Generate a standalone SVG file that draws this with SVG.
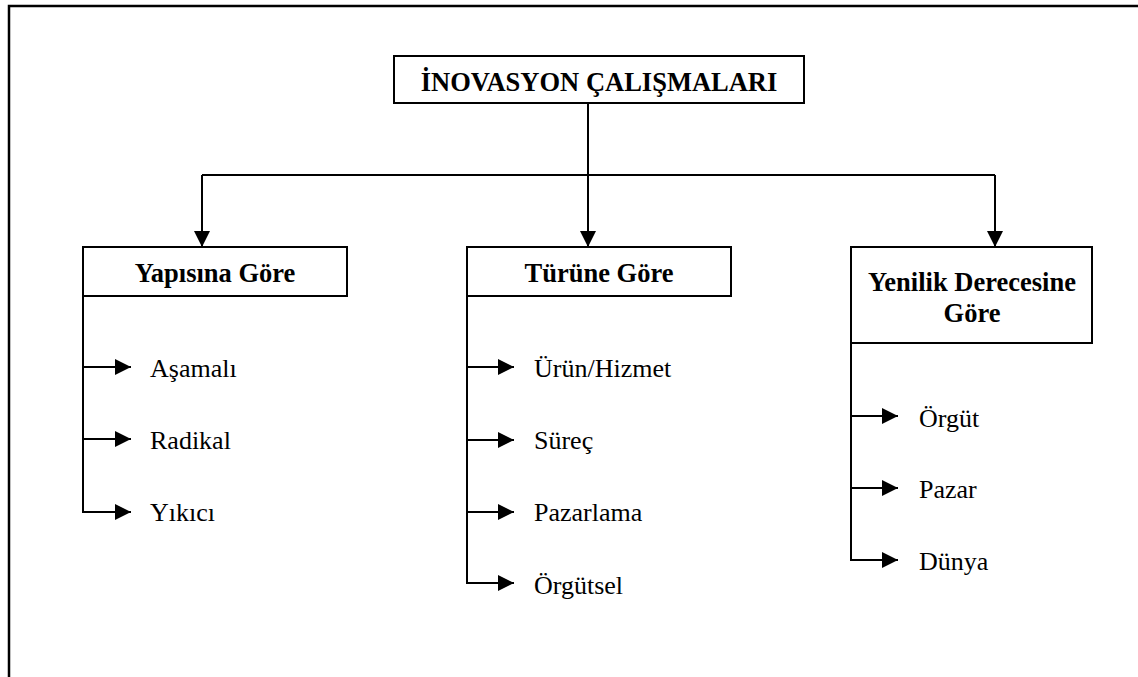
<svg xmlns="http://www.w3.org/2000/svg" width="1138" height="677" viewBox="0 0 1138 677">
  <style>
    .box { fill: #fff; stroke: #000; stroke-width: 2; }
    .wire { fill: none; stroke: #000; stroke-width: 2; }
    .head { font-family: "Liberation Serif", "Times New Roman", serif; font-weight: bold; font-size: 26.5px; fill: #000; text-anchor: middle; }
    .item { font-family: "Liberation Serif", "Times New Roman", serif; font-size: 26px; fill: #000; }
  </style>
  <defs>
    <marker id="arrow" markerUnits="userSpaceOnUse" markerWidth="16" markerHeight="16" refX="16" refY="8" orient="auto">
      <path d="M0,0 L16,8 L0,16 Z" fill="#000"/>
    </marker>
  </defs>

  <rect width="1138" height="677" fill="#fff"/>
  <!-- page frame -->
  <path d="M9,677 V6 H1138" fill="none" stroke="#000" stroke-width="2.5"/>

  <g id="connectors">
    <!-- trunk and distribution bar -->
    <path class="wire" d="M588,103 V175"/>
    <path class="wire" d="M202,175 H995"/>
    <path class="wire" d="M202,175 V247" marker-end="url(#arrow)"/>
    <path class="wire" d="M588,175 V247" marker-end="url(#arrow)"/>
    <path class="wire" d="M995,175 V247" marker-end="url(#arrow)"/>

    <!-- Yapısına Göre branches -->
    <path class="wire" d="M83,296 V512"/>
    <path class="wire" d="M82,367 H131" marker-end="url(#arrow)"/>
    <path class="wire" d="M82,439 H131" marker-end="url(#arrow)"/>
    <path class="wire" d="M82,512 H131" marker-end="url(#arrow)"/>

    <!-- Türüne Göre branches -->
    <path class="wire" d="M467,296 V583"/>
    <path class="wire" d="M466,367 H514" marker-end="url(#arrow)"/>
    <path class="wire" d="M466,440 H514" marker-end="url(#arrow)"/>
    <path class="wire" d="M466,512 H514" marker-end="url(#arrow)"/>
    <path class="wire" d="M466,583 H514" marker-end="url(#arrow)"/>

    <!-- Yenilik Derecesine Göre branches -->
    <path class="wire" d="M851,343 V560"/>
    <path class="wire" d="M850,416 H898" marker-end="url(#arrow)"/>
    <path class="wire" d="M850,488 H898" marker-end="url(#arrow)"/>
    <path class="wire" d="M850,560 H898" marker-end="url(#arrow)"/>
  </g>

  <g id="root">
    <rect class="box" x="394" y="56" width="410" height="47"/>
    <text class="head" x="599" y="91">İNOVASYON ÇALIŞMALARI</text>
  </g>

  <g id="yapisina-gore">
    <rect class="box" x="83" y="247" width="264" height="49"/>
    <text class="head" x="215" y="282">Yapısına Göre</text>
  </g>

  <g id="turune-gore">
    <rect class="box" x="467" y="247" width="264" height="49"/>
    <text class="head" x="599" y="282">Türüne Göre</text>
  </g>

  <g id="yenilik-derecesine-gore">
    <rect class="box" x="851" y="247" width="241" height="96"/>
    <text class="head" x="972" y="291">Yenilik Derecesine</text>
    <text class="head" x="972" y="322">Göre</text>
  </g>

  <g id="items-yapi">
    <text class="item" x="150" y="377">Aşamalı</text>
    <text class="item" x="150" y="449">Radikal</text>
    <text class="item" x="150" y="521">Yıkıcı</text>
  </g>

  <g id="items-tur">
    <text class="item" x="534" y="377">Ürün/Hizmet</text>
    <text class="item" x="534" y="449">Süreç</text>
    <text class="item" x="534" y="521">Pazarlama</text>
    <text class="item" x="534" y="594">Örgütsel</text>
  </g>

  <g id="items-yenilik">
    <text class="item" x="919" y="427">Örgüt</text>
    <text class="item" x="919" y="498">Pazar</text>
    <text class="item" x="919" y="570">Dünya</text>
  </g>
</svg>
